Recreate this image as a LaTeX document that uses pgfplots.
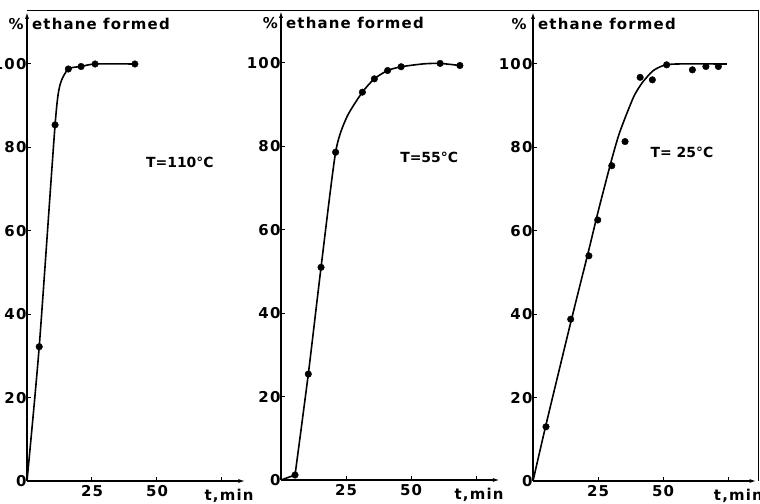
\documentclass[border=0pt]{standalone}
\usepackage{pgfplots}
\pgfplotsset{compat=1.18}
\usetikzlibrary{arrows.meta}
\usepackage{fontspec}
\setmainfont{DejaVu Sans}
\newfontfamily\lbl{DejaVu Sans}[LetterSpace=8]
\newfontfamily\lbt{DejaVu Sans}
\newcommand{\lf}{\lbl\bfseries\fontsize{15}{15}\selectfont}
\newcommand{\tf}{\lbt\bfseries\fontsize{14}{14}\selectfont}
\begin{document}
\begin{tikzpicture}
\pgfplotsset{
  panel/.style={
    x=2.6bp, y=4.17bp,
    anchor=south west,
    axis lines=left,
    axis line style={line width=1.5bp, -{Latex[length=7bp,width=4bp]}},
    xmin=0, ymin=0, ymax=112.5,
    xtick={25,50,75}, xticklabels={25,50,{}},
    ytick={0,20,40,60,80,100},
    tick align=inside, major tick length=4bp,
    tick style={line width=1bp, black},
    tick label style={font=\lf},
    /pgf/number format/assume math mode=true,
    yticklabel style={xshift=3bp},
    xticklabel style={yshift=-1bp},
    clip=false,
  },
  mk/.style={only marks, mark=*, mark size=3.3bp, black},
  cv/.style={black, line width=1.6bp, smooth, tension=0.4},
}
% panel 1
\begin{axis}[panel, at={(27bp,23bp)}, xmax=84]
\addplot[cv] coordinates {(0,0) (4.7,32.2) (10.8,85.4) (12.7,95) (15.9,98.8) (20.8,99.4) (26.2,100) (41.5,100)};
\addplot[mk] coordinates {(4.7,32.2) (10.8,85.4) (15.9,98.8) (20.8,99.4) (26.2,100) (41.5,100)};
\node[anchor=base east, font=\lf, inner sep=1bp] at (axis cs:-0.8,108.3) {\%};
\node[anchor=base west, font=\lf, inner sep=1bp] at (axis cs:1.5,108.3) {ethane formed};
\node[font=\tf] at (axis cs:58.8,76.3) {T=110°C};
\node[anchor=base, font=\lf] at (axis cs:77.7,-4.7) {t,min};
\end{axis}
% panel 2
\begin{axis}[panel, at={(281bp,24bp)}, xmax=84.2]
\addplot[black, line width=1.6bp, sharp plot] coordinates {(0,0) (5.4,1.2)};
\addplot[cv] coordinates {(5.4,1.2) (10.5,25.4) (15.4,51) (21,78.6) (25.3,87) (31.3,93) (35.9,96.2) (41,98.2) (46.2,99.1) (55,99.8) (61.2,99.9) (68.8,99.4)};
\addplot[mk] coordinates {(5.4,1.2) (10.5,25.4) (15.4,51) (21,78.6) (31.3,93) (35.9,96.2) (41,98.2) (46.2,99.1) (61.2,99.9) (68.8,99.4)};
\node[anchor=base east, font=\lf, inner sep=1bp] at (axis cs:-0.8,108.3) {\%};
\node[anchor=base west, font=\lf, inner sep=1bp] at (axis cs:1.5,108.3) {ethane formed};
\node[font=\tf] at (axis cs:57,77.4) {T=55°C};
\node[anchor=base, font=\lf] at (axis cs:76.2,-4.7) {t,min};
\end{axis}
% panel 3
\begin{axis}[panel, at={(533bp,23bp)}, xmax=86]
\addplot[cv] coordinates {(0,0) (5,13.5) (14.5,38) (21.5,55.5) (25,64.5) (30,76.5) (33,83) (36,88) (39,92.5) (42,95.5) (46,98.3) (50,99.6) (55,100) (74.6,100)};
\addplot[mk] coordinates {(5,13) (14.5,38.8) (21.5,54) (24.9,62.6) (30.3,75.6) (35.4,81.4) (41.2,96.8) (45.9,96.2) (51.4,99.8) (61.3,98.6) (66.5,99.4) (71.3,99.4)};
\node[anchor=base east, font=\lf, inner sep=1bp] at (axis cs:-2,108.3) {\%};
\node[anchor=base west, font=\lf, inner sep=1bp] at (axis cs:1.5,108.3) {ethane formed};
\node[font=\tf] at (axis cs:57.3,78.7) {T= 25°C};
\node[anchor=base, font=\lf] at (axis cs:79,-4.7) {t,min};
\end{axis}
\draw[line width=1bp] (27bp,493bp) -- (758bp,493bp) -- (758bp,23bp);
\pgfresetboundingbox
\useasboundingbox (0bp,0bp) rectangle (760bp,504bp);
\end{tikzpicture}
\end{document}
